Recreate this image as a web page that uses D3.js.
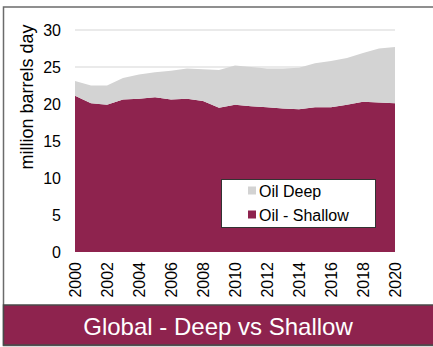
<!DOCTYPE html>
<html><head><meta charset="utf-8">
<script src="https://cdn.jsdelivr.net/npm/d3@7"></script>
<style>body{margin:0;background:#fff;} svg{display:block;font-family:"Liberation Sans",Arial,sans-serif;}</style>
</head><body>
<svg id="c" width="433" height="347"></svg>
<script>
const years = [2000,2001,2002,2003,2004,2005,2006,2007,2008,2009,2010,2011,2012,2013,2014,2015,2016,2017,2018,2019,2020];
const shallow = [21.1,20.1,19.9,20.6,20.7,20.9,20.6,20.7,20.4,19.5,19.9,19.7,19.55,19.4,19.3,19.55,19.55,19.9,20.3,20.2,20.1];
const total = [23.1,22.5,22.5,23.5,24.0,24.3,24.5,24.8,24.7,24.6,25.2,25.0,24.8,24.8,24.9,25.5,25.8,26.2,26.9,27.5,27.7];
const deep = total.map((t,i)=>+(t-shallow[i]).toFixed(2));
const yTicks = [0,5,10,15,20,25,30];
const xTicks = [2000,2002,2004,2006,2008,2010,2012,2014,2016,2018,2020];
const seriesNames = ["Oil Deep","Oil - Shallow"];
const colors = {deep:"#D3D3D3", shallow:"#8E234E"};
const title = "Global - Deep vs Shallow";
const yTitle = "million barrels day";

const svg = d3.select("#c");
const x = d3.scaleLinear().domain([2000,2020]).range([75,395]);
const y = d3.scaleLinear().domain([0,30]).range([252,30]);

// frame
svg.append("rect").attr("x",3.5).attr("y",7).attr("width",440).attr("height",338.5)
  .attr("fill","#fff").attr("stroke","#6b6b6b").attr("stroke-width",1.5);

// gridlines
svg.append("g").selectAll("line").data(yTicks.filter(d=>d>0)).join("line")
  .attr("x1",x(2000)).attr("x2",x(2020)).attr("y1",d=>y(d)).attr("y2",d=>y(d))
  .attr("stroke","#e3e3e3").attr("stroke-width",1.5);

const data = years.map((yr,i)=>({yr, shallow:shallow[i], deep:deep[i]}));
const stack = d3.stack().keys(["shallow","deep"])(data);
const area = d3.area().x(d=>x(d.data.yr)).y0(d=>y(d[0])).y1(d=>y(d[1]));
svg.append("g").selectAll("path").data(stack).join("path")
  .attr("d",area).attr("fill",d=>colors[d.key]);

// y axis
const yAxis = d3.axisLeft(y).tickValues(yTicks).tickSize(0).tickPadding(14);
const gy = svg.append("g").attr("transform",`translate(${x(2000)},0)`).call(yAxis);
gy.select(".domain").remove();
gy.selectAll("text").attr("font-size",16).attr("fill","#000").attr("font-family","Liberation Sans, Arial, sans-serif");

// x axis
const xAxis = d3.axisBottom(x).tickValues(xTicks).tickFormat(d3.format("d")).tickSize(0).tickPadding(0);
const gx = svg.append("g").attr("transform",`translate(0,${y(0)})`).call(xAxis);
gx.select(".domain").remove();
gx.selectAll("text").attr("font-size",16).attr("fill","#000").attr("font-family","Liberation Sans, Arial, sans-serif")
  .attr("text-anchor","end").attr("transform","rotate(-90)").attr("x",-10).attr("y",0).attr("dy","0.36em");

// y title
svg.append("text").attr("transform",`translate(33,97) rotate(-90)`).attr("text-anchor","middle")
  .attr("font-size",18).attr("fill","#000").text(yTitle);

// legend
const lg = svg.append("g");
lg.append("rect").attr("x",221.5).attr("y",179.5).attr("width",154).attr("height",48)
  .attr("fill","#fff").attr("stroke","#333").attr("stroke-width",1);
const legItems = [{name:seriesNames[0],c:colors.deep},{name:seriesNames[1],c:colors.shallow}];
legItems.forEach((d,i)=>{
  const cy = 191 + i*24;
  lg.append("rect").attr("x",248).attr("y",cy-4.5).attr("width",8).attr("height",8).attr("fill",d.c);
  lg.append("text").attr("x",259).attr("y",cy).attr("dy","0.36em").attr("font-size",16).attr("fill","#000").text(d.name);
});

// banner
svg.append("rect").attr("x",3.5).attr("y",305).attr("width",440).attr("height",40)
  .attr("fill","#8E234E").attr("stroke","#4a4a4a").attr("stroke-width",1.5);
svg.append("text").attr("x",218).attr("y",326).attr("dy","0.36em").attr("text-anchor","middle")
  .attr("font-size",24).attr("fill","#fff").text(title);
</script>
</body></html>
